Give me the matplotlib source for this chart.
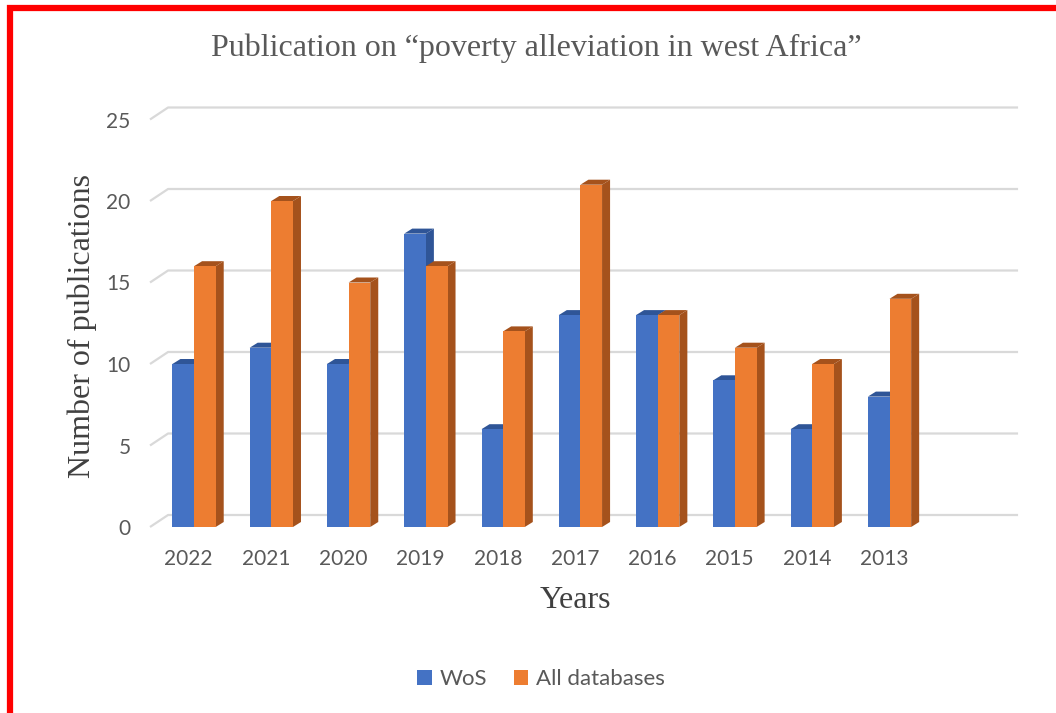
import matplotlib
matplotlib.use("Agg")
import matplotlib.pyplot as plt
from matplotlib.patches import Polygon, Rectangle

# data
years = ["2022", "2021", "2020", "2019", "2018", "2017", "2016", "2015", "2014", "2013"]
wos = [10, 11, 10, 18, 6, 13, 13, 9, 6, 8]
all_db = [16, 20, 15, 16, 12, 21, 13, 11, 10, 14]
yticks = [0, 5, 10, 15, 20, 25]

blue, blue_dark = "#4472C4", "#2F5597"
orange, orange_dark = "#ED7D31", "#A5521C"
grid_col = "#D9D9D9"
text_col = "#595959"

W, H = 1056, 713
fig = plt.figure(figsize=(W / 100, H / 100), dpi=100)
# front plane: x -0.5 -> px 150, 10.5 -> px 1000 ; y 0 -> px 527, 1 unit = 16.3 px
ppu = 16.3
ymax = 26.5
ax = fig.add_axes([150 / W, (H - 527) / H, 850 / W, ymax * ppu / H])
ax.set_xlim(-0.5, 10.5)
ax.set_ylim(0, ymax)
for s in ax.spines.values():
    s.set_visible(False)

# depth of the back wall and of the bars (data units)
wall_dx, wall_dy = 18 / 77, 12 / ppu
bar_dx, bar_dy = 8 / 77, 5 / ppu

# back wall gridlines with the diagonal floor/side lines
for v in yticks:
    ax.plot([-0.5, -0.5 + wall_dx, 10.5 + wall_dx], [v, v + wall_dy, v + wall_dy],
            color=grid_col, lw=1.6, zorder=1, solid_capstyle="butt", clip_on=False)

bw = 0.28
x0 = -0.21


def bar3d(x, h, face, dark):
    ax.bar(x, h, width=bw, align="edge", color=face, lw=0, zorder=3)
    side = [(x + bw, 0), (x + bw + bar_dx, bar_dy), (x + bw + bar_dx, h + bar_dy), (x + bw, h)]
    top = [(x, h), (x + bar_dx, h + bar_dy), (x + bw + bar_dx, h + bar_dy), (x + bw, h)]
    ax.add_patch(Polygon(side, closed=True, color=dark, lw=0, zorder=2))
    ax.add_patch(Polygon(top, closed=True, color=dark, lw=0, zorder=2))


for i in range(len(years)):
    bar3d(i + x0, wos[i], blue, blue_dark)
    bar3d(i + x0 + bw, all_db[i], orange, orange_dark)

ax.set_xticks(range(len(years)))
ax.set_xticklabels(years)
ax.set_yticks(yticks)
ax.tick_params(length=0, labelcolor=text_col, labelsize=15)
ax.tick_params(axis="x", pad=16)
ax.tick_params(axis="y", pad=14)
for lab in ax.get_xticklabels() + ax.get_yticklabels():
    lab.set_family("Lato")

serif = "Liberation Serif"
fig.text(536 / W, 1 - 48 / H, "Publication on \u201cpoverty alleviation in west Africa\u201d",
         ha="center", va="center", family=serif, fontsize=23, color=text_col)
fig.text(82 / W, 1 - 326 / H, "Number of publications", rotation=90,
         ha="center", va="center", family=serif, fontsize=23, color="#404040")
fig.text(575 / W, 1 - 601 / H, "Years", ha="center", va="center",
         family=serif, fontsize=23, color="#404040")

# legend
ax.bar([0], [0], color=blue, label="WoS")
ax.bar([0], [0], color=orange, label="All databases")
fig.legend(loc="center", bbox_to_anchor=(541 / W, 1 - 679 / H), ncol=2, frameon=False,
           prop={"family": "Lato", "size": 16}, labelcolor=text_col,
           handlelength=0.65, handleheight=0.65, handletextpad=0.35, columnspacing=1.2)

# red frame around the picture
fig.patches.append(Rectangle((10 / W, -0.1), 1.2, 1 - 8 / H + 0.1, transform=fig.transFigure,
                             fill=False, edgecolor="#FF0000", lw=4.5))

fig.savefig("out.png", dpi=100)
